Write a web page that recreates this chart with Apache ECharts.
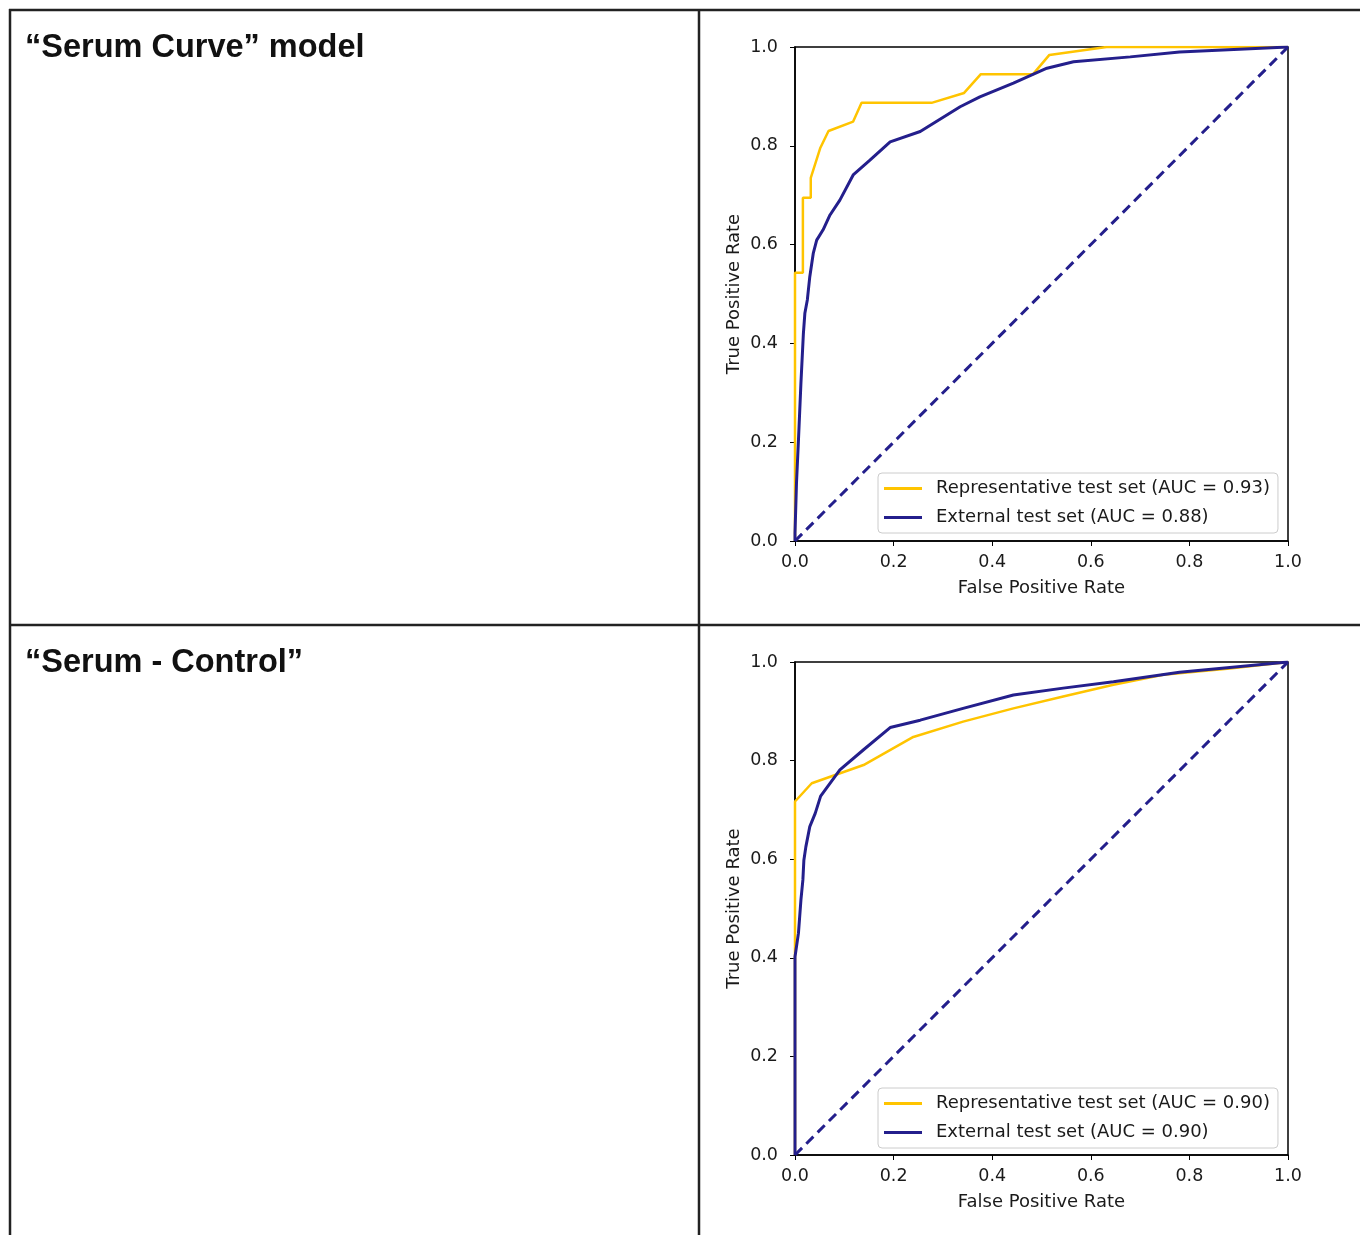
<!DOCTYPE html>
<html>
<head>
<meta charset="utf-8">
<script src="https://cdn.jsdelivr.net/npm/echarts@6/dist/echarts.min.js"></script>
<style>
html,body{margin:0;padding:0;background:#fff;}
#chart{width:1360px;height:1235px;}
</style>
</head>
<body>
<div id="chart"></div>
<script>
// ---- data ----
const panelTitles = ['\u201CSerum Curve\u201D model', '\u201CSerum - Control\u201D'];
const tickLabels = ['0.0', '0.2', '0.4', '0.6', '0.8', '1.0'];
const xAxisName = 'False Positive Rate';
const yAxisName = 'True Positive Rate';

const topRepName = 'Representative test set (AUC = 0.93)';
const topExtName = 'External test set (AUC = 0.88)';
const botRepName = 'Representative test set (AUC = 0.90)';
const botExtName = 'External test set (AUC = 0.90)';

const topRep = [[0,0],[0,0.543],[0.016,0.543],[0.016,0.695],[0.032,0.695],[0.032,0.735],[0.051,0.795],[0.068,0.83],[0.118,0.849],[0.135,0.887],[0.277,0.887],[0.343,0.907],[0.377,0.945],[0.483,0.945],[0.516,0.984],[0.632,1.0],[1,1]];
const topExt = [[0,0],[0,0.016],[0.003,0.117],[0.007,0.204],[0.012,0.319],[0.017,0.42],[0.02,0.461],[0.025,0.488],[0.03,0.535],[0.037,0.582],[0.044,0.609],[0.057,0.63],[0.071,0.66],[0.091,0.69],[0.118,0.741],[0.152,0.771],[0.193,0.808],[0.254,0.829],[0.335,0.879],[0.375,0.899],[0.443,0.927],[0.511,0.957],[0.565,0.97],[0.68,0.98],[0.78,0.99],[1,1]];
const botRep = [[0,0],[0,0.717],[0.034,0.754],[0.139,0.791],[0.24,0.848],[0.341,0.879],[0.443,0.906],[0.544,0.93],[0.646,0.954],[0.747,0.974],[0.882,0.987],[1,1]];
const botExt = [[0,0],[0,0.402],[0.007,0.45],[0.012,0.517],[0.016,0.558],[0.018,0.598],[0.022,0.625],[0.03,0.666],[0.041,0.693],[0.052,0.728],[0.091,0.781],[0.139,0.822],[0.193,0.867],[0.254,0.882],[0.341,0.906],[0.443,0.933],[0.544,0.947],[0.646,0.96],[0.78,0.979],[1,1]];
const chance = [[0,0],[1,1]];

// ---- styles ----
const YEL = '#FFC400';
const NAVY = '#241f8c';
const FONT = 'DejaVu Sans';
const TXT = '#1a1a1a';

function xAxis(gi) {
  return {
    type: 'value', gridIndex: gi, min: 0, max: 1, interval: 0.2,
    name: xAxisName, nameLocation: 'middle', nameGap: 38,
    nameTextStyle: {fontFamily: FONT, fontSize: 18, color: TXT},
    axisLine: {show: true, lineStyle: {color: '#000', width: 1.5}},
    axisTick: {show: true, inside: false, length: 5, lineStyle: {color: '#000', width: 1}},
    axisLabel: {fontFamily: FONT, fontSize: 17.5, color: TXT, margin: 12,
      formatter: v => tickLabels[Math.round(v / 0.2)]},
    splitLine: {show: false}
  };
}
function yAxis(gi) {
  return {
    type: 'value', gridIndex: gi, min: 0, max: 1, interval: 0.2,
    name: yAxisName, nameLocation: 'middle', nameGap: 52, nameRotate: 90,
    nameTextStyle: {fontFamily: FONT, fontSize: 18, color: TXT},
    axisLine: {show: true, lineStyle: {color: '#000', width: 1.5}},
    axisTick: {show: true, inside: false, length: 5, lineStyle: {color: '#000', width: 1}},
    axisLabel: {fontFamily: FONT, fontSize: 17.5, color: TXT, margin: 17,
      formatter: v => tickLabels[Math.round(v / 0.2)]},
    splitLine: {show: false}
  };
}
function lineSeries(name, data, gi, color, width, dashed) {
  return {
    type: 'line', name: name, data: data, xAxisIndex: gi, yAxisIndex: gi,
    showSymbol: false, symbol: 'none', animation: false, silent: true,
    lineStyle: {color: color, width: width, type: dashed ? [10, 6] : 'solid'},
    itemStyle: {color: color}
  };
}
function legend(top, names) {
  return {
    left: 878, top: top, orient: 'vertical',
    data: names.map(n => ({name: n, icon: 'rect'})),
    itemWidth: 38, itemHeight: 3, itemGap: 10,
    padding: [6, 8, 6, 6],
    borderColor: '#cccccc', borderWidth: 1, borderRadius: 4,
    backgroundColor: 'rgba(255,255,255,0.85)',
    selectedMode: false,
    textStyle: {fontFamily: FONT, fontSize: 18, color: TXT, lineHeight: 19, padding: [0, 0, 0, 9]}
  };
}

const lineColor = '#222';
const lw = 2.5;
const option = {
  backgroundColor: '#fff',
  animation: false,
  grid: [
    {left: 795, top: 47, width: 493, height: 494, show: true, borderColor: '#000', borderWidth: 1.5, backgroundColor: 'transparent'},
    {left: 795, top: 662, width: 493, height: 493, show: true, borderColor: '#000', borderWidth: 1.5, backgroundColor: 'transparent'}
  ],
  xAxis: [xAxis(0), xAxis(1)],
  yAxis: [yAxis(0), yAxis(1)],
  legend: [legend(473, [topRepName, topExtName]), legend(1088, [botRepName, botExtName])],
  series: [
    lineSeries(topRepName, topRep, 0, YEL, 2.5, false),
    lineSeries(topExtName, topExt, 0, NAVY, 3, false),
    lineSeries('chance-top', chance, 0, NAVY, 3, true),
    lineSeries(botRepName, botRep, 1, YEL, 2.5, false),
    lineSeries(botExtName, botExt, 1, NAVY, 3, false),
    lineSeries('chance-bot', chance, 1, NAVY, 3, true)
  ],
  graphic: [
    {type: 'line', shape: {x1: 9, y1: 10, x2: 1360, y2: 10}, style: {stroke: lineColor, lineWidth: lw}},
    {type: 'line', shape: {x1: 10, y1: 9, x2: 10, y2: 1235}, style: {stroke: lineColor, lineWidth: lw}},
    {type: 'line', shape: {x1: 699, y1: 9, x2: 699, y2: 1235}, style: {stroke: lineColor, lineWidth: lw}},
    {type: 'line', shape: {x1: 9, y1: 625, x2: 1360, y2: 625}, style: {stroke: lineColor, lineWidth: lw}},
    {type: 'text', left: 25, top: 32, style: {text: panelTitles[0], fontFamily: 'Liberation Sans', fontWeight: 'bold', fontSize: 32.5, fill: '#111'}},
    {type: 'text', left: 25, top: 647, style: {text: panelTitles[1], fontFamily: 'Liberation Sans', fontWeight: 'bold', fontSize: 32.5, fill: '#111'}}
  ]
};

const chart = echarts.init(document.getElementById('chart'), null, {renderer: 'canvas'});
chart.setOption(option);
</script>
</body>
</html>
